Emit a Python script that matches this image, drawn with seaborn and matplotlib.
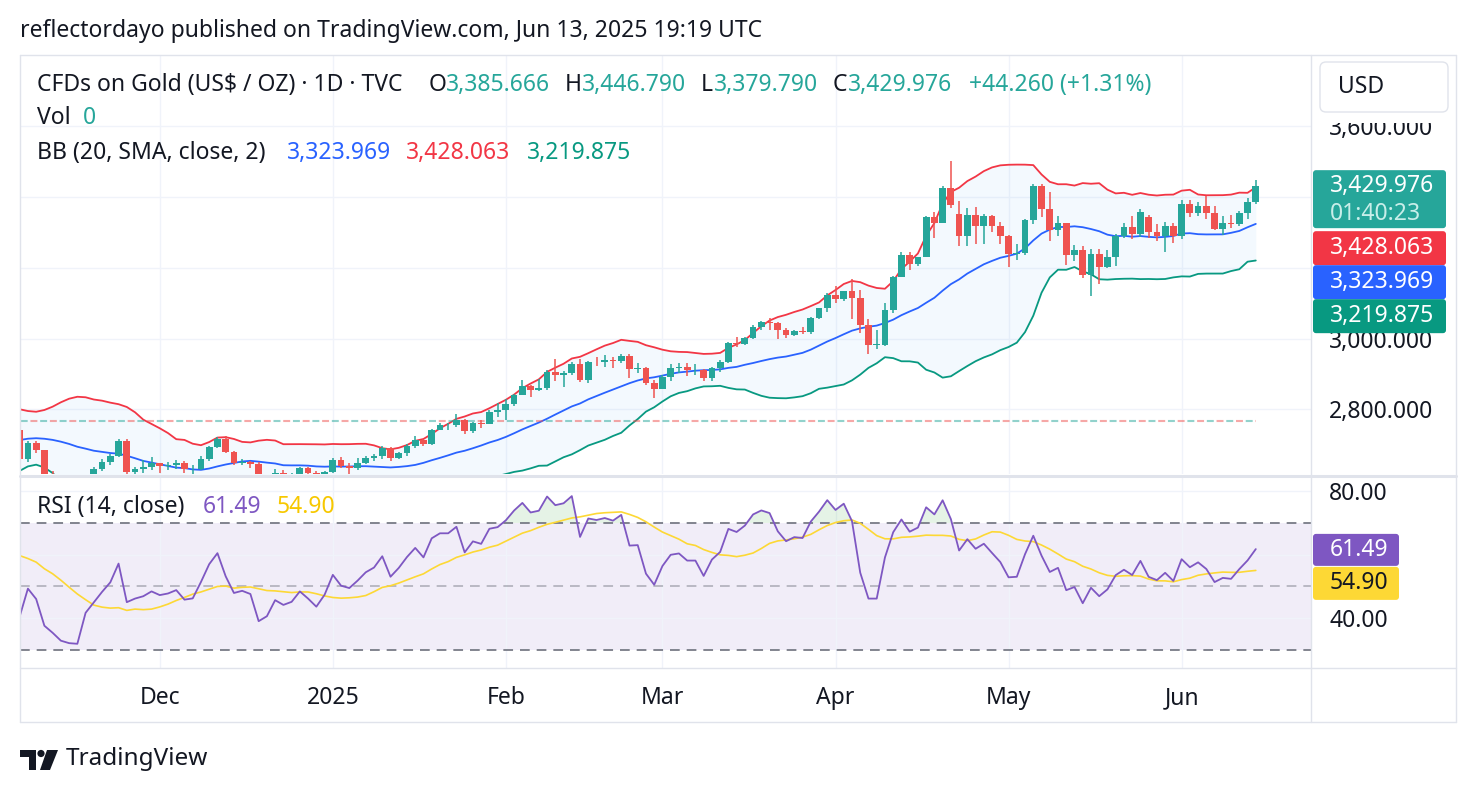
import numpy as np
import pandas as pd
import seaborn as sns
import matplotlib.pyplot as plt
from matplotlib.patches import FancyBboxPatch, Rectangle, Circle, Polygon
from matplotlib.lines import Line2D
from matplotlib.transforms import IdentityTransform

# TVC gold daily bars: US holidays are folded into the next session
holidays = ["2024-11-28", "2024-12-25", "2025-01-01", "2025-01-20",
            "2025-02-17", "2025-04-18", "2025-05-26"]
dates = [d for d in pd.bdate_range("2024-11-06", "2025-06-13")
         if d.strftime("%Y-%m-%d") not in holidays]

opens = [2743, 2659, 2706, 2685, 2619, 2598, 2573, 2565, 2563, 2612,
         2631, 2651, 2670, 2712, 2625, 2633, 2638, 2648, 2640, 2643,
         2649, 2631, 2633, 2660, 2694, 2718, 2680, 2648, 2652, 2646,
         2587, 2595, 2622, 2612, 2617, 2634, 2621, 2606, 2624, 2658,
         2640, 2636, 2648, 2662, 2670, 2690, 2662, 2677, 2697, 2715,
         2703, 2743, 2755, 2755, 2770, 2740, 2763, 2760, 2794, 2798,
         2815, 2842, 2866, 2856, 2861, 2907, 2898, 2904, 2928, 2882,
         2935, 2933, 2939, 2936, 2952, 2915, 2916, 2876, 2858, 2893,
         2917, 2920, 2910, 2910, 2889, 2918, 2933, 2988, 2984, 3001,
         3034, 3047, 3044, 3023, 3011, 3020, 3019, 3057, 3085, 3124,
         3113, 3134, 3114, 3037, 2982, 2982, 3082, 3175, 3237, 3210,
         3229, 3343, 3327, 3424, 3352, 3288, 3349, 3319, 3345, 3317,
         3289, 3239, 3241, 3334, 3431, 3366, 3306, 3325, 3236, 3249,
         3178, 3240, 3203, 3230, 3290, 3314, 3295, 3342, 3300, 3288,
         3317, 3289, 3380, 3353, 3374, 3353, 3310, 3325, 3322, 3355,
         3385.666]
highs = [2749, 2711, 2710, 2687, 2626, 2618, 2580, 2579, 2616, 2639,
         2660, 2674, 2717, 2717, 2639, 2657, 2665, 2650, 2651, 2658,
         2654, 2644, 2668, 2697, 2721, 2726, 2683, 2661, 2656, 2651,
         2612, 2632, 2628, 2621, 2638, 2638, 2626, 2626, 2662, 2665,
         2649, 2664, 2670, 2674, 2698, 2693, 2680, 2703, 2725, 2718,
         2746, 2763, 2763, 2786, 2773, 2765, 2770, 2799, 2817, 2830,
         2845, 2882, 2869, 2887, 2911, 2942, 2908, 2934, 2943, 2938,
         2947, 2955, 2949, 2957, 2956, 2930, 2920, 2882, 2897, 2928,
         2930, 2931, 2929, 2914, 2920, 2940, 2991, 3005, 3005, 3038,
         3049, 3057, 3047, 3030, 3025, 3033, 3060, 3087, 3128, 3149,
         3135, 3168, 3136, 3055, 3024, 3099, 3176, 3245, 3245, 3231,
         3345, 3357, 3430, 3500, 3387, 3368, 3371, 3352, 3349, 3328,
         3293, 3268, 3338, 3437, 3435, 3414, 3347, 3326, 3265, 3262,
         3252, 3253, 3250, 3296, 3325, 3345, 3366, 3350, 3324, 3330,
         3325, 3392, 3392, 3385, 3403, 3375, 3347, 3349, 3360, 3397,
         3446.79]
lows = [2643, 2652, 2676, 2610, 2590, 2572, 2537, 2556, 2562, 2610,
        2626, 2643, 2667, 2606, 2605, 2620, 2630, 2622, 2630, 2633,
        2620, 2614, 2630, 2654, 2691, 2677, 2643, 2643, 2635, 2583,
        2584, 2583, 2602, 2610, 2616, 2615, 2596, 2603, 2620, 2635,
        2615, 2630, 2645, 2656, 2660, 2656, 2659, 2670, 2690, 2696,
        2700, 2741, 2741, 2750, 2731, 2735, 2748, 2758, 2780, 2771,
        2809, 2841, 2834, 2852, 2856, 2880, 2864, 2897, 2877, 2875,
        2924, 2921, 2918, 2930, 2890, 2903, 2870, 2832, 2857, 2880,
        2902, 2895, 2898, 2880, 2879, 2905, 2931, 2977, 2983, 2998,
        3024, 3025, 3000, 3002, 3006, 3012, 3014, 3055, 3075, 3100,
        3106, 3054, 3015, 2957, 2970, 2979, 3072, 3174, 3193, 3205,
        3229, 3283, 3326, 3367, 3260, 3260, 3266, 3268, 3300, 3268,
        3202, 3223, 3237, 3323, 3343, 3274, 3290, 3207, 3218, 3172,
        3121, 3154, 3200, 3205, 3285, 3280, 3287, 3285, 3276, 3245,
        3271, 3280, 3343, 3345, 3338, 3307, 3293, 3313, 3318, 3338,
        3379.79]
closes = [2659, 2706, 2685, 2619, 2598, 2573, 2565, 2563, 2612, 2631,
          2651, 2670, 2712, 2625, 2633, 2638, 2648, 2640, 2643, 2649,
          2631, 2633, 2660, 2694, 2718, 2680, 2648, 2652, 2646, 2587,
          2595, 2622, 2612, 2617, 2634, 2621, 2606, 2624, 2658, 2640,
          2636, 2648, 2662, 2670, 2690, 2662, 2677, 2697, 2715, 2703,
          2743, 2755, 2755, 2770, 2740, 2763, 2760, 2794, 2798, 2815,
          2842, 2866, 2856, 2861, 2907, 2898, 2904, 2928, 2882, 2935,
          2933, 2939, 2936, 2952, 2915, 2916, 2876, 2858, 2893, 2917,
          2920, 2910, 2910, 2889, 2918, 2933, 2988, 2984, 3001, 3034,
          3047, 3044, 3023, 3011, 3020, 3019, 3057, 3085, 3124, 3113,
          3134, 3114, 3037, 2982, 2982, 3082, 3175, 3237, 3210, 3229,
          3343, 3327, 3424, 3378, 3288, 3349, 3319, 3345, 3317, 3289,
          3239, 3241, 3334, 3431, 3366, 3306, 3325, 3236, 3249, 3178,
          3240, 3203, 3230, 3290, 3314, 3295, 3357, 3300, 3288, 3317,
          3289, 3380, 3353, 3374, 3353, 3310, 3325, 3322, 3355, 3386,
          3429.976]
# closes before the visible window (Sep 16 - Nov 5 2024), only feed the indicators
prior_closes = [2582, 2569, 2559, 2587, 2622, 2628, 2657, 2657, 2672, 2658,
                2634, 2663, 2657, 2656, 2653, 2644, 2622, 2608, 2630, 2657,
                2649, 2662, 2674, 2693, 2721, 2720, 2748, 2715, 2736, 2747,
                2743, 2774, 2788, 2744, 2736, 2736, 2743]

vol_line_level = 2768
price_ticks = [2800, 3000, 3200, 3400, 3600]
price_ticklabels = ["2,800.000", "3,000.000", "", "", "3,600.000"]  # 3200/3400 sit under the badges
rsi_ticks = [40, 60, 80]
rsi_ticklabels = ["40.00", "", "80.00"]

# header text
title = "reflectordayo published on TradingView.com, Jun 13, 2025 19:19 UTC"
ohlc_txt = [("O", "3,385.666"), ("H", "3,446.790"), ("L", "3,379.790"), ("C", "3,429.976")]
change_txt = "+44.260 (+1.31%)"
bb_txt = ["3,323.969", "3,428.063", "3,219.875"]
rsi_last, rsi_ma_last = 61.49, 54.90
countdown = "01:40:23"

UP, DOWN = "#26a69a", "#ef5350"
BB_UP, BB_MID, BB_LOW = "#f23645", "#2962ff", "#089981"
TXT = "#131722"
GRID = "#f0f3fa"
BORDER = "#e0e3eb"
FS = 16.5

sns.set_theme(style="white")
plt.rcParams["font.family"] = ["Noto Sans", "DejaVu Sans"]
plt.rcParams["lines.scale_dashes"] = False

df = pd.DataFrame({"date": dates, "open": opens, "high": highs, "low": lows, "close": closes})
df["i"] = np.arange(len(df))

# Bollinger (20, 2) and RSI (14) with its 14-period SMA
full_close = pd.Series(prior_closes + closes,
                       index=np.arange(-len(prior_closes), len(closes)), dtype=float)
mid = full_close.rolling(20).mean()
sd = full_close.rolling(20).std(ddof=0)
delta = full_close.diff()
avg_g = delta.clip(lower=0).ewm(alpha=1 / 14, adjust=False).mean()
avg_l = (-delta.clip(upper=0)).ewm(alpha=1 / 14, adjust=False).mean()
rsi = 100 - 100 / (1 + avg_g / avg_l)
ind = pd.DataFrame({"i": full_close.index, "mid": mid, "upper": mid + 2 * sd,
                    "lower": mid - 2 * sd, "rsi": rsi, "rsi_ma": rsi.rolling(14).mean()})
ind = ind[ind.i >= -2].reset_index(drop=True)

W, H = 1476, 794
fig = plt.figure(figsize=(W / 100, H / 100), dpi=100)
fx = lambda px: px / W
fy = lambda py: 1 - py / H

ax = fig.add_axes([fx(20), fy(474), fx(1311) - fx(20), fy(55) - fy(474)])
ax_rsi = fig.add_axes([fx(20), fy(668), fx(1311) - fx(20), fy(477) - fy(668)], sharex=ax)

# ---- price pane
ax.fill_between(ind.i, ind.lower, ind.upper, color="#2196f3", alpha=0.05, lw=0, zorder=1)
sns.lineplot(data=ind, x="i", y="upper", ax=ax, color=BB_UP, lw=1.3, zorder=2)
sns.lineplot(data=ind, x="i", y="mid", ax=ax, color=BB_MID, lw=1.3, zorder=2)
sns.lineplot(data=ind, x="i", y="lower", ax=ax, color=BB_LOW, lw=1.3, zorder=2)

colors = np.where(df.close >= df.open, UP, DOWN)
ax.vlines(df.i, df.low, df.high, colors=colors, lw=1.1, zorder=3)
body = np.maximum((df.close - df.open).abs(), 1.5)
ax.bar(df.i, body, bottom=np.minimum(df.open, df.close), width=0.82,
       color=colors, lw=0, zorder=4)

ax.hlines(vol_line_level, df.i.iloc[0] - 1, df.i.iloc[-1], colors=DOWN, alpha=0.5,
          lw=1.5, linestyles=(0, (5, 9)), zorder=2)
ax.hlines(vol_line_level, df.i.iloc[0] - 1, df.i.iloc[-1], colors=UP, alpha=0.5,
          lw=1.5, linestyles=(7, (5, 9)), zorder=2)

ax.set_xlim(0.04, 156.7)
ax.set_ylim(2618, 3800)
ax.set_yticks(price_ticks)
ax.set_yticklabels(price_ticklabels)

# ---- RSI pane
ax_rsi.fill_between([-5, 170], 30, 70, color="#7e57c2", alpha=0.1, lw=0, zorder=0)
ax_rsi.fill_between(ind.i, 70, ind.rsi, where=ind.rsi > 70, interpolate=True,
                    color="#4caf50", alpha=0.14, lw=0, zorder=1)
for lvl, a in [(70, 1.0), (30, 1.0), (50, 0.5)]:
    ax_rsi.axhline(lvl, color="#787b86", alpha=a, lw=1.3, dashes=(7, 5), zorder=1)
sns.lineplot(data=ind, x="i", y="rsi_ma", ax=ax_rsi, color="#fdd835", lw=1.2, zorder=2)
sns.lineplot(data=ind, x="i", y="rsi", ax=ax_rsi, color="#7e57c2", lw=1.3, zorder=3)
ax_rsi.set_ylim(24.2, 84.5)
ax_rsi.set_yticks(rsi_ticks)
ax_rsi.set_yticklabels(rsi_ticklabels)

# month ticks at the first bar of each month
firsts = df.groupby(df.date.dt.to_period("M")).i.first().iloc[1:]
mlabels = ["2025" if p.month == 1 else p.strftime("%b") for p in firsts.index]
ax_rsi.set_xticks(firsts.values)
ax_rsi.set_xticklabels(mlabels)
for lab in ax_rsi.get_xticklabels():
    if lab.get_text() == "2025":
        lab.set_fontweight("bold")

for a in (ax, ax_rsi):
    a.set_xlabel("")
    a.set_ylabel("")
    a.grid(True, color=GRID, lw=1)
    a.set_axisbelow(True)
    a.yaxis.tick_right()
    a.tick_params(axis="y", length=0, pad=13, labelsize=FS, labelcolor=TXT)
    a.tick_params(axis="x", length=0, pad=13, labelsize=FS, labelcolor=TXT)
    for s in a.spines.values():
        s.set_visible(False)
    a.set_facecolor("white")
ax.tick_params(labelbottom=False)

# ---- frame lines
def fline(x0, y0, x1, y1, lw=1.0, color=BORDER):
    fig.add_artist(Line2D([fx(x0), fx(x1)], [fy(y0), fy(y1)], color=color, lw=lw,
                          transform=fig.transFigure))

fline(20, 55, 1456, 55)
fline(20, 722, 1456, 722)
fline(20, 55, 20, 722)
fline(1456, 55, 1456, 722)
fline(1311, 55, 1311, 722)
fline(20, 475.5, 1456, 475.5, lw=2.2)
fline(20, 668, 1456, 668)

# ---- header texts
fig.text(fx(20), fy(31), title, fontsize=FS, color=TXT, va="center")
fig.text(fx(37), fy(85), "CFDs on Gold (US$ / OZ) · 1D · TVC", fontsize=FS, color=TXT, va="center")
for (k, v), xk, xv in zip(ohlc_txt, [429, 565, 701, 833], [446, 582, 714, 848]):
    fig.text(fx(xk), fy(85), k, fontsize=FS, color=TXT, va="center")
    fig.text(fx(xv), fy(85), v, fontsize=FS, color=UP, va="center")
fig.text(fx(969), fy(85), change_txt, fontsize=FS, color=UP, va="center")
fig.text(fx(37), fy(118), "Vol", fontsize=FS, color=TXT, va="center")
fig.text(fx(83), fy(118), "0", fontsize=FS, color=UP, va="center")
fig.text(fx(37), fy(153), "BB (20, SMA, close, 2)", fontsize=FS, color=TXT, va="center")
for v, xv, c in zip(bb_txt, [287, 406, 527], [BB_MID, BB_UP, BB_LOW]):
    fig.text(fx(xv), fy(153), v, fontsize=FS, color=c, va="center")
fig.text(fx(37), fy(507), "RSI (14, close)", fontsize=FS, color=TXT, va="center")
fig.text(fx(203), fy(507), f"{rsi_last:.2f}", fontsize=FS, color="#7e57c2", va="center")
fig.text(fx(277), fy(507), f"{rsi_ma_last:.2f}", fontsize=FS, color="#f7c800", va="center")

# ---- price scale badges (pixel coordinates, origin bottom-left)
ident = IdentityTransform()
def badge(x0, x1, yc_top, h, color, r=3):
    fig.patches.append(FancyBboxPatch((x0, H - yc_top - h), x1 - x0, h,
                                      boxstyle=f"round,pad=0,rounding_size={r}",
                                      fc=color, ec="none", transform=ident, figure=fig))

# white strip under the currency button clips the top of the 3,600 label
fig.patches.append(Rectangle((1313, H - 123), 140, 67, fc="white", ec="none",
                             transform=ident, figure=fig))
fig.patches.append(FancyBboxPatch((1320, H - 112), 128, 50, boxstyle="round,pad=0,rounding_size=6",
                                  fc="white", ec=BORDER, lw=1, transform=ident, figure=fig))
fig.text(fx(1338), fy(87), "USD", fontsize=FS, color=TXT, va="center")

y_last = H - ax.transData.transform((0, closes[-1]))[1]
badge(1313, 1446, y_last - 16, 58, UP)
fig.text(fx(1330), fy(y_last), f"{closes[-1]:,.3f}", fontsize=FS, color="white", va="center")
fig.text(fx(1330), fy(y_last + 28), countdown, fontsize=FS, color="#c8eee9", va="center")
for k, (v, c) in enumerate(zip([bb_txt[1], bb_txt[0], bb_txt[2]], [BB_UP, BB_MID, BB_LOW])):
    yc = y_last + 62 + 34 * k
    badge(1313, 1446, yc - 17, 34, c)
    fig.text(fx(1330), fy(yc), v, fontsize=FS, color="white", va="center")

y_rsi = H - ax_rsi.transData.transform((0, rsi_last))[1]
badge(1313, 1399, y_rsi - 16, 32, "#7e57c2")
fig.text(fx(1330), fy(y_rsi), f"{rsi_last:.2f}", fontsize=FS, color="white", va="center")
badge(1313, 1399, y_rsi + 17, 33, "#fdd835")
fig.text(fx(1330), fy(y_rsi + 33), f"{rsi_ma_last:.2f}", fontsize=FS, color=TXT, va="center")

# ---- TradingView logo
logo = "#131722"
fig.patches.append(Polygon([(fx(20), fy(750)), (fx(36), fy(750)), (fx(36), fy(770)),
                            (fx(29), fy(770)), (fx(29), fy(757)), (fx(20), fy(757))],
                           closed=True, fc=logo, ec="none", transform=fig.transFigure, figure=fig))
fig.patches.append(Circle((41, H - 753.5), 3.6, fc=logo, ec="none", transform=ident, figure=fig))
fig.patches.append(Polygon([(fx(47), fy(750)), (fx(58), fy(750)), (fx(50), fy(770)),
                            (fx(40), fy(770))],
                           closed=True, fc=logo, ec="none", transform=fig.transFigure, figure=fig))
fig.text(fx(66), fy(759), "TradingView", fontsize=17.5, color=TXT, va="center")

fig.savefig("out.png", dpi=100, facecolor="white")
